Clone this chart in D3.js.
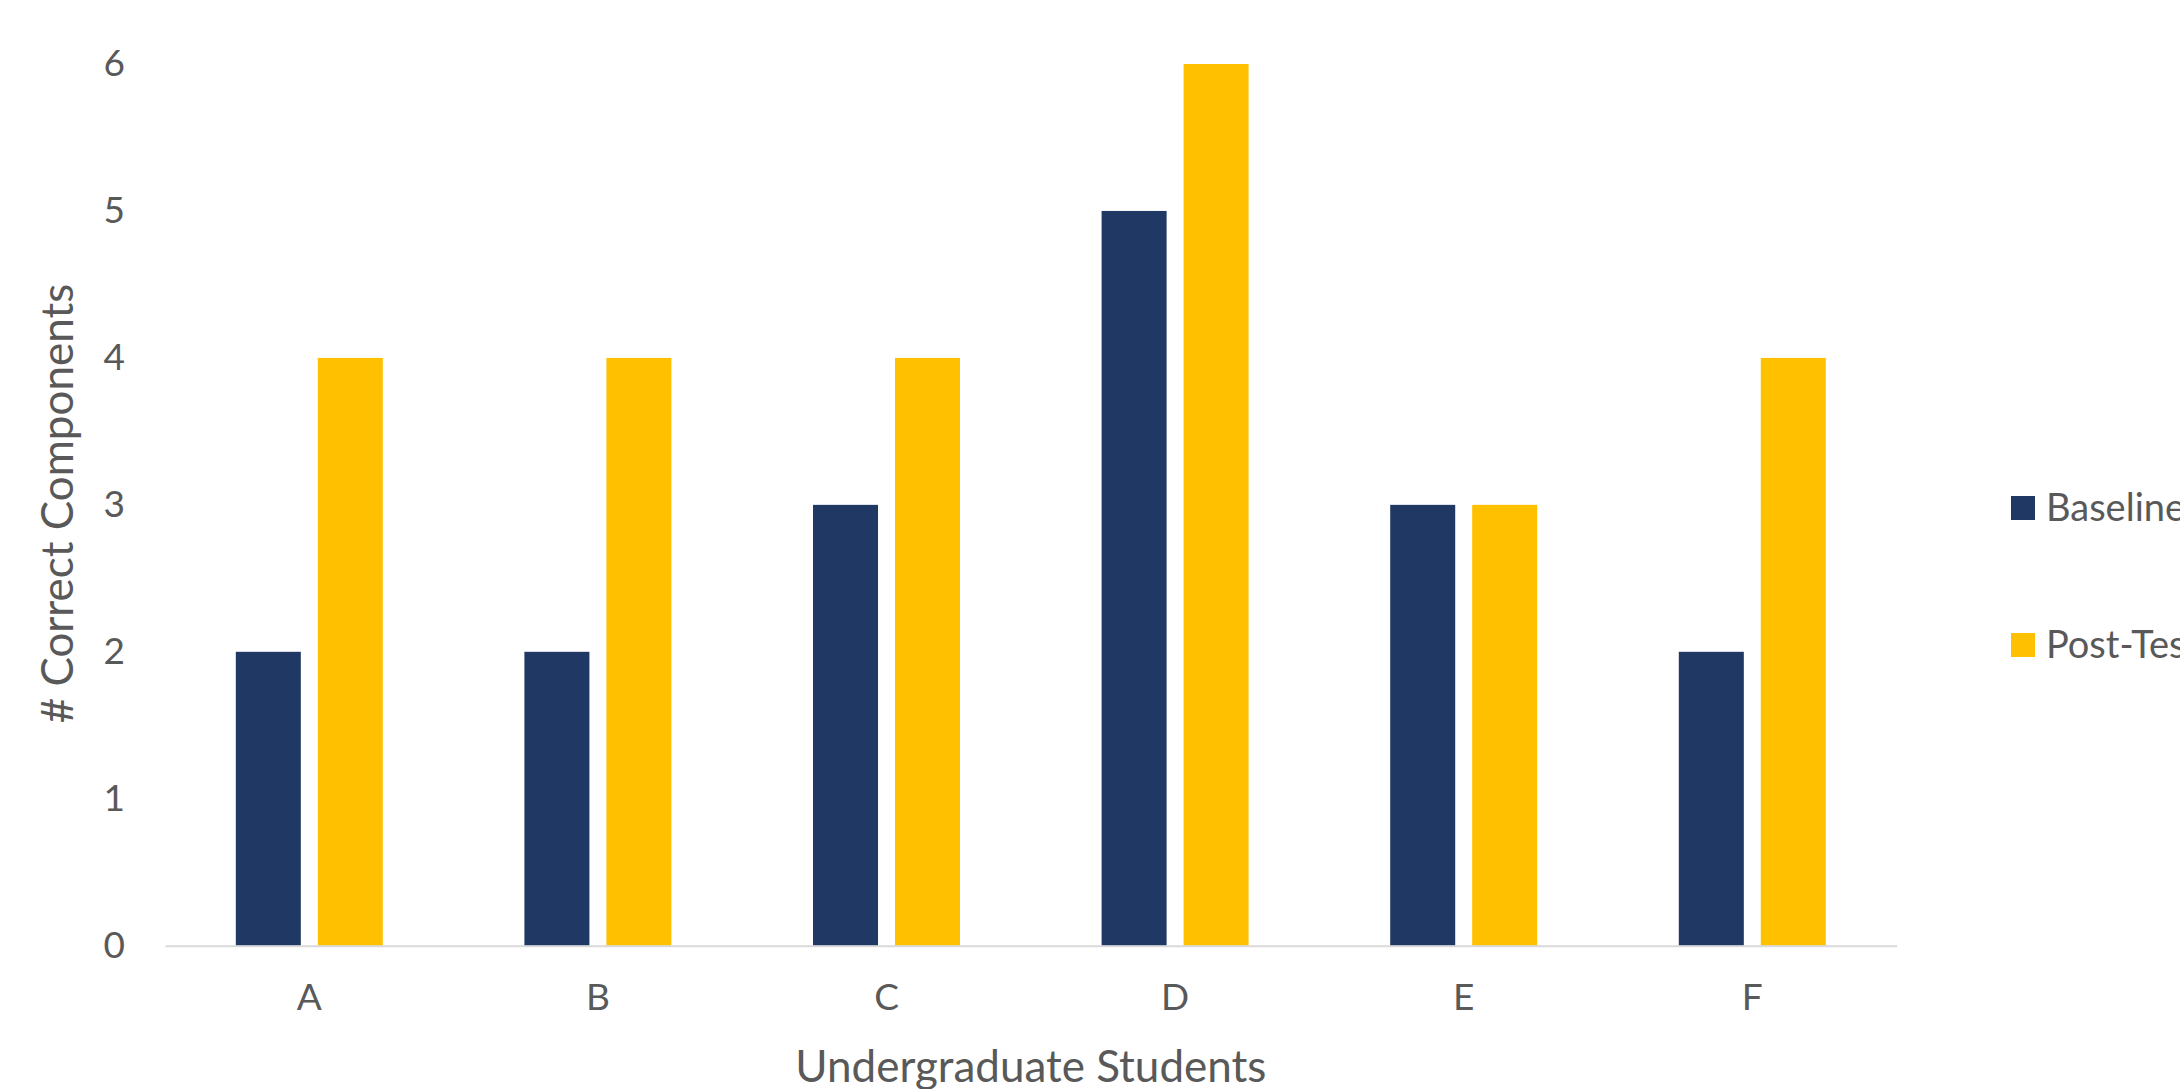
<!DOCTYPE html>
<html>
<head>
<meta charset="utf-8">
<script src="https://cdn.jsdelivr.net/npm/d3@7"></script>
<style>
  html, body { margin: 0; padding: 0; background: #fff; overflow: hidden; }
  text { font-family: Lato, "Open Sans", sans-serif; fill: #595959; }
</style>
</head>
<body>
<svg id="chart" width="2180" height="1089"></svg>
<script>
const categories = ["A", "B", "C", "D", "E", "F"];
const seriesNames = ["Baseline", "Post-Test"];
const baseline = [2, 2, 3, 5, 3, 2];
const postTest = [4, 4, 4, 6, 3, 4];
const yTicks = [0, 1, 2, 3, 4, 5, 6];
const colors = ["#203864", "#FFC000"];
const xTitle = "Undergraduate Students";
const yTitle = "# Correct Components";

const seriesValues = [baseline, postTest];
const svg = d3.select("#chart");
const W = 2180, H = 1089;
svg.append("rect").attr("width", W).attr("height", H).attr("fill", "#fff");

const x = d3.scaleBand().domain(categories).range([165, 1896.6]).padding(0);
const groupW = 147;
const xs = d3.scaleBand().domain(seriesNames).range([-groupW / 2, groupW / 2]).paddingInner(0.207).paddingOuter(0);
const y = d3.scaleLinear().domain([0, 6]).range([945.7, 64]);

// bars
seriesNames.forEach((s, si) => {
  svg.append("g").selectAll("rect")
    .data(categories.map((c, i) => ({ c, v: seriesValues[si][i] })))
    .join("rect")
    .attr("x", d => x(d.c) + x.bandwidth() / 2 + xs(s))
    .attr("width", xs.bandwidth())
    .attr("y", d => y(d.v))
    .attr("height", d => y(0) - y(d.v))
    .attr("fill", colors[si]);
});

// x axis
const xAxis = svg.append("g").attr("transform", `translate(0,${y(0)})`)
  .call(d3.axisBottom(x).tickSize(0).tickPadding(38));
xAxis.select(".domain").attr("stroke", "#D9D9D9").attr("stroke-width", 2);
xAxis.selectAll("text").attr("font-size", 37).style("fill", "#595959").attr("font-family", "Lato");

// y axis labels
const yAxis = svg.append("g").attr("transform", `translate(125,0)`)
  .call(d3.axisLeft(y).tickValues(yTicks).tickSize(0).tickPadding(0).tickFormat(d3.format("d")));
yAxis.select(".domain").remove();
yAxis.selectAll("text").attr("font-size", 37).style("fill", "#595959").attr("font-family", "Lato");

// axis titles
svg.append("text").attr("x", (165 + 1896.6) / 2).attr("y", 1082)
  .attr("text-anchor", "middle").attr("font-size", 44).text(xTitle);
svg.append("text").attr("transform", `translate(73,${(290 + 717) / 2}) rotate(-90)`)
  .attr("text-anchor", "middle").attr("font-size", 44).text(yTitle);

// legend
const legend = svg.append("g");
seriesNames.forEach((s, i) => {
  const cy = 508 + i * 137;
  legend.append("rect").attr("x", 2011).attr("y", cy - 12).attr("width", 24).attr("height", 24).attr("fill", colors[i]);
  legend.append("text").attr("x", 2046).attr("y", cy).attr("dy", "0.35em")
    .attr("font-size", 38).text(s);
});
</script>
</body>
</html>
